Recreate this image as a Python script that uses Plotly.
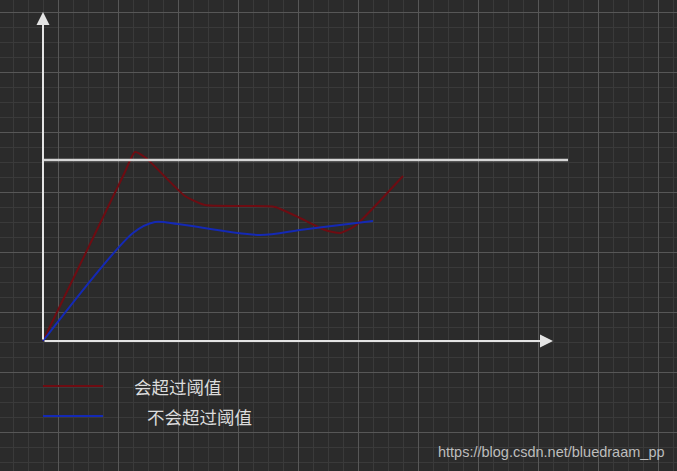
import plotly.graph_objects as go

# data space: origin at the axes corner, y grows upward
threshold = 181

red_x = [0, 81, 92, 103, 142, 162, 197, 232, 257, 282, 297, 312, 360]
red_y = [0, 167, 189, 183, 145, 136, 135, 134, 123, 111, 108, 115, 165]

blue_x = [0, 90, 112, 135, 217, 257, 297, 330]
blue_y = [0, 108, 119, 117, 106, 111, 116, 120]

legend_names = ["会超过阈值", "不会超过阈值"]
legend_colors = ["#6e0c12", "#1429b5"]
watermark = "https://blog.csdn.net/bluedraam_pp"

W, H = 677, 471
X0, Y0 = 43, 341  # pixel position of the origin

fig = go.Figure()

fig.add_trace(go.Scatter(x=red_x, y=red_y, mode="lines",
                         line=dict(color=legend_colors[0], width=2, shape="spline", smoothing=0.5),
                         hoverinfo="skip"))
fig.add_trace(go.Scatter(x=blue_x, y=blue_y, mode="lines",
                         line=dict(color=legend_colors[1], width=2, shape="spline", smoothing=0.8),
                         hoverinfo="skip"))

# threshold line
fig.add_trace(go.Scatter(x=[0, 525], y=[threshold, threshold], mode="lines",
                         line=dict(color="#d6d6d6", width=2.5), hoverinfo="skip"))

# axes with arrows
axis_col = "#e4e4e4"
fig.add_annotation(x=0, y=329, ax=0, ay=0, xref="x", yref="y", axref="x", ayref="y",
                   showarrow=True, arrowhead=2, arrowsize=1.3, arrowwidth=2, arrowcolor=axis_col, text="")
fig.add_annotation(x=510, y=0, ax=0, ay=0, xref="x", yref="y", axref="x", ayref="y",
                   showarrow=True, arrowhead=2, arrowsize=1.3, arrowwidth=2, arrowcolor=axis_col, text="")

# legend drawn by hand
leg_y = [-45, -75]
text_x = [132, 145]
for name, col, ly, tx in zip(legend_names, legend_colors, leg_y, text_x):
    fig.add_trace(go.Scatter(x=[0, 60], y=[ly, ly], mode="lines",
                             line=dict(color=col, width=2), hoverinfo="skip"))
    fig.add_annotation(x=tx - X0, y=ly, xref="x", yref="y", text=name, showarrow=False,
                       xanchor="left", font=dict(family="Noto Sans CJK SC", size=17.5, color="#dcdcdc"))

fig.add_annotation(x=W - 10 - X0, y=Y0 - 452, xref="x", yref="y", text=watermark, showarrow=False,
                   xanchor="right", font=dict(family="Liberation Sans, Arial", size=14.5, color="#bdbdbd"))

fig.update_xaxes(range=[-X0, W - X0], showgrid=True, gridcolor="#575757", gridwidth=1.3,
                 tick0=15, dtick=60, zeroline=False, showticklabels=False, ticks="",
                 minor=dict(showgrid=True, tick0=0, dtick=15, gridcolor="#3a3a3a", gridwidth=1))
fig.update_yaxes(range=[Y0 - H, Y0], showgrid=True, gridcolor="#575757", gridwidth=1.3,
                 tick0=29, dtick=60, zeroline=False, showticklabels=False, ticks="",
                 minor=dict(showgrid=True, tick0=14, dtick=15, gridcolor="#3a3a3a", gridwidth=1))

fig.update_layout(width=W, height=H, margin=dict(l=0, r=0, t=0, b=0),
                  paper_bgcolor="#2b2b2b", plot_bgcolor="#2b2b2b", showlegend=False)

fig.write_html("out.html", config={"displayModeBar": False},
               post_script="document.body.style.margin='0';")
